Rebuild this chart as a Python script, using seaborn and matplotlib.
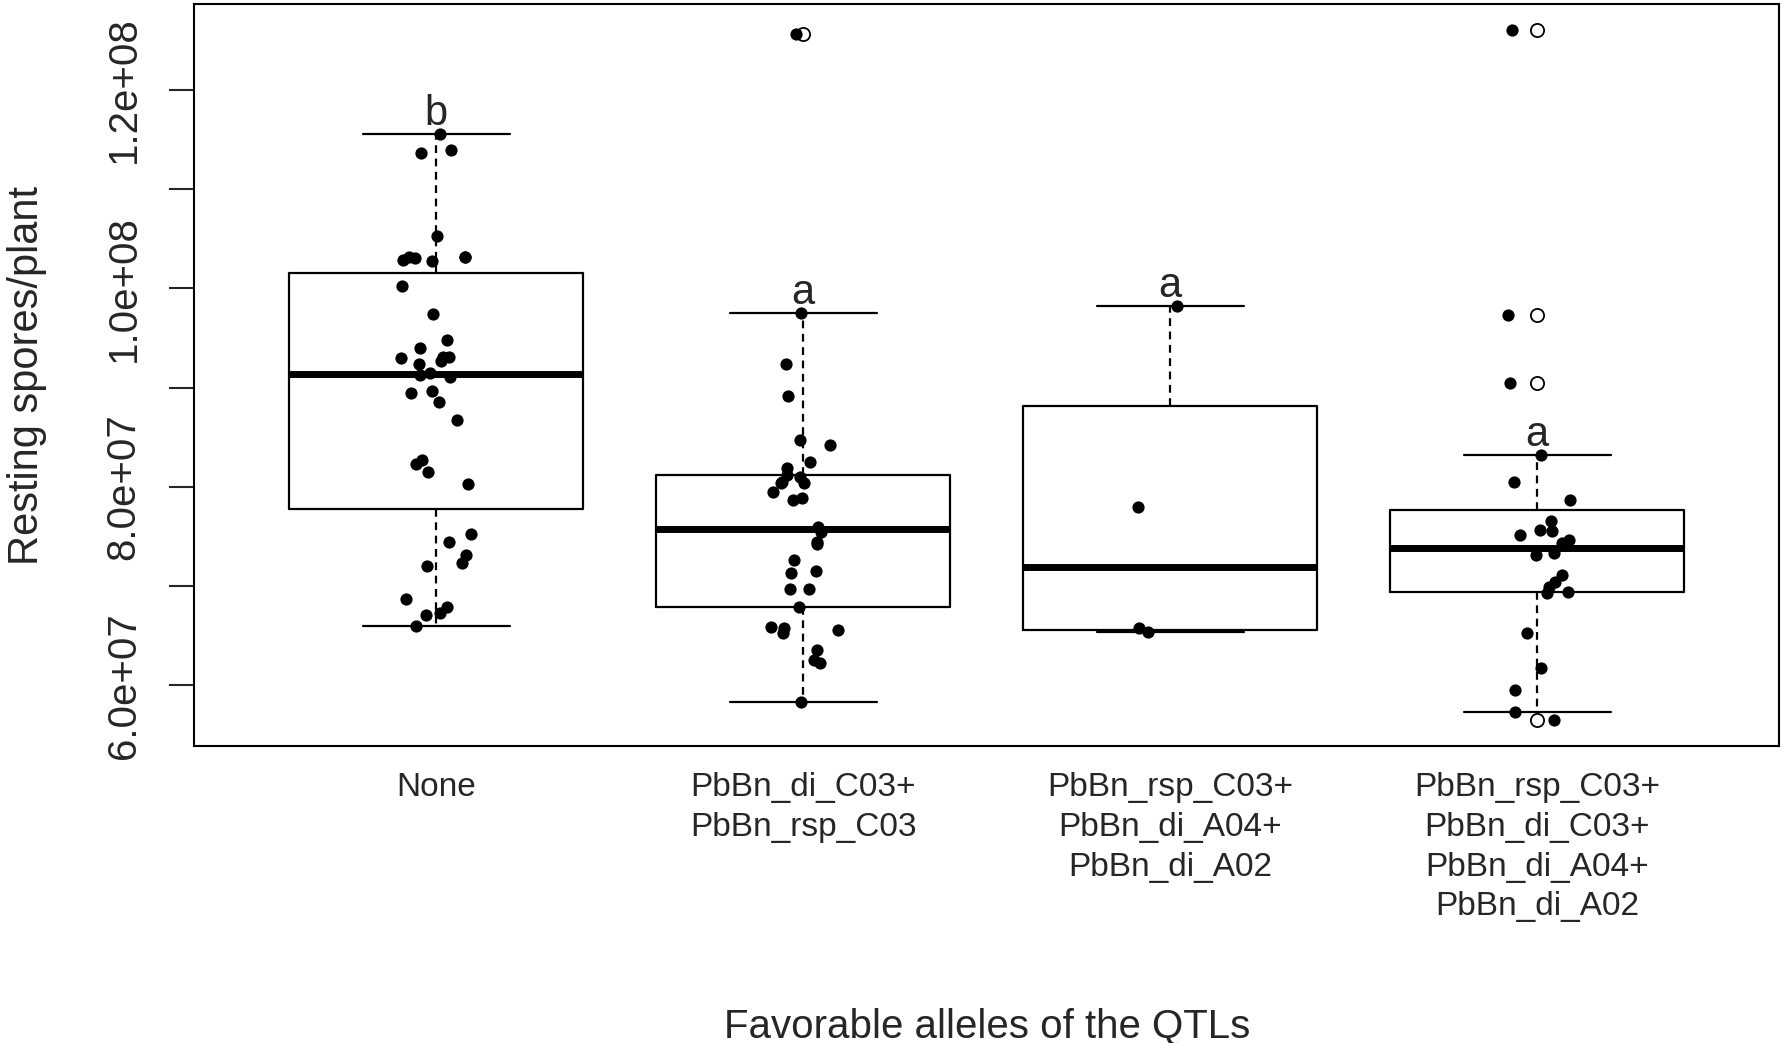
import numpy as np
import pandas as pd
import seaborn as sns
import matplotlib
matplotlib.use("Agg")
import matplotlib.pyplot as plt

# resting spores per plant, in millions
none_vals = [115.53, 113.95, 113.68, 105.28, 103.2, 103.2, 103.2, 103.08, 102.9, 102.78,
             100.27, 97.42, 94.80, 93.96, 93.12, 93.12, 92.99, 92.71, 92.38, 91.45,
             91.27, 91.04, 89.69, 89.43, 88.58, 86.74, 82.71, 82.30, 81.53, 80.27,
             75.25, 74.47, 73.13, 72.36, 72.02, 68.67, 67.86, 67.32, 67.09, 65.98]
two_qtl_vals = [125.63, 97.55, 92.35, 89.16, 84.72, 84.22, 82.54, 81.87, 81.19, 81.02,
                80.52, 80.42, 80.36, 79.51, 78.85, 78.68, 76.0, 75.48, 74.47, 74.21,
                72.63, 71.55, 71.29, 69.68, 69.68, 67.92, 65.85, 65.74, 65.57, 65.24,
                63.56, 62.55, 62.28, 58.35]
three_qtl_vals = [98.24, 77.96, 65.81, 65.35]
four_qtl_vals = [126.09, 97.32, 90.5, 83.21, 80.52, 78.7, 76.59, 75.65, 75.58, 75.15,
                 74.64, 74.31, 73.30, 73.13, 71.12, 70.44, 69.94, 69.43, 69.3, 65.24,
                 61.77, 59.53, 57.34, 56.5]

groups = ["None",
          "PbBn_di_C03+\nPbBn_rsp_C03",
          "PbBn_rsp_C03+\nPbBn_di_A04+\nPbBn_di_A02",
          "PbBn_rsp_C03+\nPbBn_di_C03+\nPbBn_di_A04+\nPbBn_di_A02"]
letters = ["b", "a", "a", "a"]
all_vals = [none_vals, two_qtl_vals, three_qtl_vals, four_qtl_vals]

df = pd.DataFrame({
    "group": np.repeat(groups, [len(v) for v in all_vals]),
    "spores": np.concatenate(all_vals) * 1e6,
})


def tukey_stats(v, coef=1.5):
    # same as R boxplot.stats (fivenum hinges)
    v = np.sort(np.asarray(v))
    n = len(v)
    n4 = np.floor((n + 3) / 2) / 2
    d = np.array([1, n4, (n + 1) / 2, n + 1 - n4, n])
    fn = 0.5 * (v[np.floor(d).astype(int) - 1] + v[np.ceil(d).astype(int) - 1])
    iqr = fn[3] - fn[1]
    inside = v[(v >= fn[1] - coef * iqr) & (v <= fn[3] + coef * iqr)]
    out = v[(v < fn[1] - coef * iqr) | (v > fn[3] + coef * iqr)]
    return dict(med=fn[2], q1=fn[1], q3=fn[3], whislo=inside.min(), whishi=inside.max(), fliers=out)


sns.set_style("ticks")
plt.rcParams["font.family"] = ["Liberation Sans", "DejaVu Sans"]

fig = plt.figure(figsize=(17.83, 10.43), dpi=100)
ax = fig.add_axes([0.1088, 0.2848, 0.8892, 0.7109])

np.random.seed(3)
sns.stripplot(data=df, x="group", y="spores", order=groups, color="black",
              jitter=0.1, size=8.8, linewidth=0, ax=ax, zorder=3)

stats = [tukey_stats(np.asarray(v) * 1e6) for v in all_vals]
lw = 1.6
ax.bxp(stats, positions=range(len(groups)), widths=0.8, capwidths=0.4,
       manage_ticks=False, showfliers=True,
       boxprops=dict(color="black", linewidth=lw),
       whiskerprops=dict(color="black", linewidth=lw, linestyle=(0, (3.5, 2.5))),
       capprops=dict(color="black", linewidth=lw),
       medianprops=dict(color="black", linewidth=5, solid_capstyle="butt"),
       flierprops=dict(marker="o", markerfacecolor="white", markeredgecolor="black",
                       markersize=9.5, markeredgewidth=1.3))

for i, (s, lab) in enumerate(zip(stats, letters)):
    ax.text(i, s["whishi"], lab, ha="center", va="bottom", fontsize=30)

ax.set_xlim(-0.66, 3.66)
ax.set_ylim(53.88e6, 128.62e6)

yt = np.arange(60e6, 120.1e6, 10e6)
ax.set_yticks(yt)
ax.set_yticklabels(["{:.1e}".format(t) if i % 2 == 0 else "" for i, t in enumerate(yt)],
                   rotation=90, va="center", fontsize=29)
ax.tick_params(axis="y", length=18, width=1.5, pad=19)
ax.set_xticks(range(len(groups)))
ax.set_xticklabels(groups, fontsize=24, linespacing=1.36, va="top")
ax.tick_params(axis="x", length=0, pad=19)

ax.set_xlabel("Favorable alleles of the QTLs", fontsize=29)
ax.set_ylabel("Resting spores/plant", fontsize=30)
ax.xaxis.set_label_coords(0.5, -0.353)
ax.yaxis.set_label_coords(-0.093, 0.5)

for sp in ax.spines.values():
    sp.set_visible(True)
    sp.set_color("black")
    sp.set_linewidth(1.5)

fig.savefig("out.png", dpi=100)
